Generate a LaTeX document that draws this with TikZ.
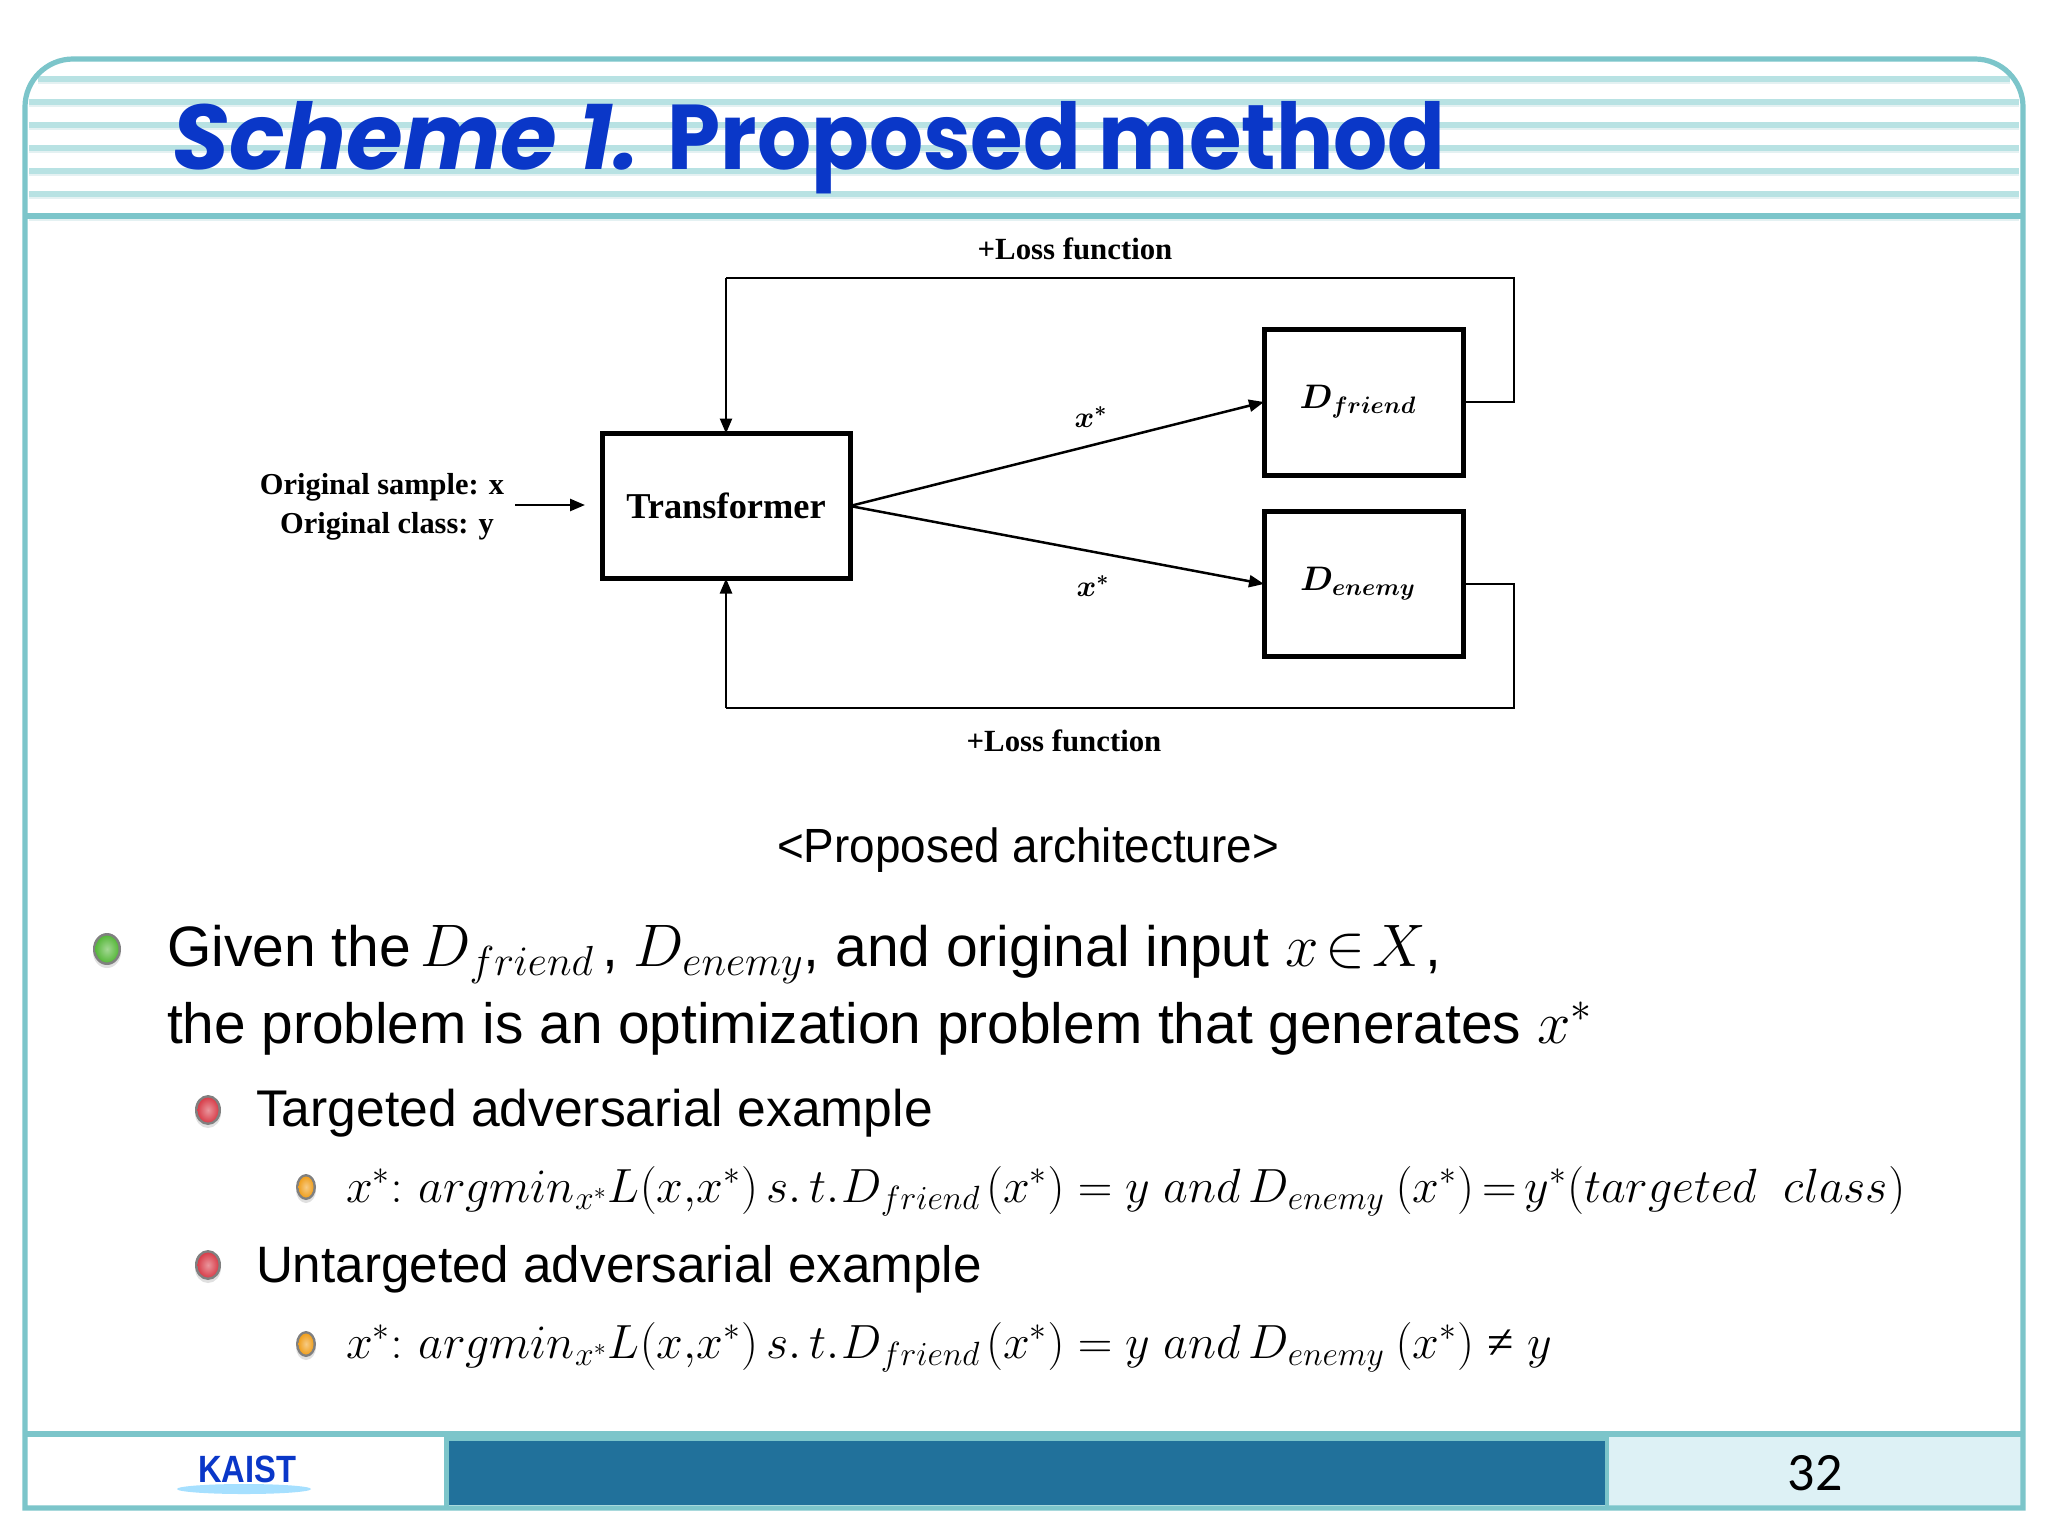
\RequirePackage{fix-cm}
\documentclass[tikz,border=0pt]{standalone}
\usepackage{fontspec}
\setmainfont{Liberation Sans}
\newfontfamily\serifb{Liberation Serif}
\newfontfamily\titlef{Poppins}
\newfontfamily\titleg[FakeStretch=0.925]{Poppins}
\newfontfamily\numf{Carlito}
\newfontfamily\capf[FakeStretch=0.955]{Liberation Sans}
\newfontfamily\logof[FakeStretch=0.86]{Liberation Sans}
\usetikzlibrary{arrows.meta,shapes.geometric}
\definecolor{frameC}{HTML}{7CC5CA}
\definecolor{stripeC}{HTML}{B8E2E3}
\definecolor{stripeS}{HTML}{E4F1F2}
\definecolor{titleC}{HTML}{0A37C8}
\definecolor{barC}{HTML}{21719B}
\definecolor{panelC}{HTML}{DDF1F5}
\definecolor{ballG}{HTML}{58B83C}
\definecolor{ballR}{HTML}{D8404C}
\definecolor{ballY}{HTML}{F0A020}
\tikzset{
  blockbox/.style={draw=black,line width=2.5pt,fill=white,inner sep=0pt,outer sep=0pt,align=center},
  wire/.style={draw=black,line width=1.25pt},
  tipped/.style={wire,-{Triangle[length=7.5pt,width=6pt]}},
  lab/.style={inner sep=0pt,outer sep=0pt,font=\serifb\bfseries\fontsize{15.4}{18}\selectfont,align=center},
  body/.style={inner sep=0pt,outer sep=0pt,anchor=base west,text=black},
  stripe/.style={draw=stripeC,line width=2.6pt},
  stripeshade/.style={draw=stripeS,line width=1pt},
  frameline/.style={draw=frameC,line width=2.6pt},
}
\newcommand{\bulletdot}[5]{%
  \fill[black!12] (#1,#2+3) ellipse ({#3} and {#4});
  \fill[black!50] (#1,#2) ellipse ({#3} and {#4});
  \shade[inner color=white!45!#5,outer color=#5] (#1,#2) ellipse ({#3-2.5} and {#4-2.5});
}
\newcommand{\fbig}[1]{{\fontsize{30}{34}\selectfont$#1$}}
\newcommand{\formhead}{x^*{:\mkern6mu}argmin_{x^*}L(x,\!x^*)\,s.\,t.\mkern1mu D_{friend}\mkern2mu(x^*)=y\ and\,D_{enemy}\mkern4mu(x^*)}
\begin{document}
\begin{tikzpicture}[x=0.5pt,y=-0.5pt]
\useasboundingbox (0,0) rectangle (2048,1536);
\fill[white] (0,0) rectangle (2048,1536);
% header stripes
\foreach \yy in {102,125,148,171,194}{
  \draw[stripeshade] (29,\yy+4) -- (2019,\yy+4);
  \draw[stripe] (29,\yy) -- (2019,\yy);
}
\draw[stripeshade] (38,83) -- (2010,83);
\draw[stripe] (38,79) -- (2010,79);
\draw[stripeshade] (29,220) -- (2019,220);
\draw[frameline] (25,216) -- (2023,216);
% panels of the footer
\fill[panelC] (1609,1437) rectangle (2021,1506);
\fill[frameC] (444,1434) rectangle (1609,1442);
\fill[frameC] (444,1434) rectangle (449,1508);
\fill[frameC] (1605,1434) rectangle (1609,1508);
\fill[barC] (449,1441) rectangle (1605,1505);
\draw[frameline] (25,1434) -- (2023,1434);
% outer frame
\draw[frameline] (25,1508) -- (25,107) arc[start angle=180,end angle=270,radius=48] -- (1975,59)
   arc[start angle=270,end angle=360,radius=48] -- (2023,1508) -- cycle;
% title
\node[body,text=titleC,font=\bfseries\fontsize{46}{50}\selectfont] (title) at (172,169) {{\titlef\itshape Scheme 1.}\hspace{-3pt} {\titleg Proposed method}};
% diagram
\node[blockbox,minimum width=124pt,minimum height=72.5pt,font=\serifb\bfseries\fontsize{18.2}{20}\selectfont] (tr) at (726,506) {\raisebox{-1.5pt}{Transformer}};
\node[blockbox,minimum width=99.5pt,minimum height=73pt,font=\fontsize{17}{20}\selectfont\boldmath] (df) at (1363.5,402) {\hspace{-5.5pt}\raisebox{-1.5pt}{$D_{friend}$}};
\node[blockbox,minimum width=99.5pt,minimum height=72.5pt,font=\fontsize{17}{20}\selectfont\boldmath] (de) at (1363.5,584) {\hspace{-5.5pt}\raisebox{-1.5pt}{$D_{enemy}$}};
\coordinate (tl) at (726,278);
\coordinate (trc) at (1514,278);
\coordinate (bl) at (726,708);
\coordinate (brc) at (1514,708);
\coordinate (inL) at (515,505);
\coordinate (inR) at (585,505);
\draw[wire] (df.east) -- (df.east -| trc) -- (trc) -- (tl);
\draw[tipped] (tl) -- (tr.north);
\draw[wire] (de.east) -- (de.east -| brc) -- (brc) -- (bl);
\draw[tipped] (bl) -- (tr.south);
\draw[tipped] (inL) -- (inR);
\draw[tipped] (tr.east) -- (df.west);
\draw[tipped] (tr.east) -- (de.west);
\node[lab] (ltop) at (1075,249) {+Loss function};
\node[lab] (lbot) at (1064,741) {+Loss function};
\node[lab,font=\serifb\bfseries\fontsize{15.2}{18}\selectfont] (orig) at (382,507) {Original sample: x\\[1.2pt]\hspace{5pt}Original class: y};
\node[lab,font=\fontsize{15}{18}\selectfont\boldmath] (xa) at (1091,417) {$x^*$};
\node[lab,font=\fontsize{15}{18}\selectfont\boldmath] (xb) at (1093,586) {$x^*$};
% caption
\node[inner sep=0pt,font=\capf\fontsize{24}{28}\selectfont] (cap) at (1028,850) {<Proposed architecture>};
% body text
\bulletdot{107}{949}{14}{16}{ballG}
\bulletdot{208}{1110}{13}{15}{ballR}
\bulletdot{208}{1265}{13}{15}{ballR}
\bulletdot{306}{1187}{10}{13}{ballY}
\bulletdot{306}{1344}{10}{13}{ballY}
\node[body,font=\fontsize{28.5}{34}\selectfont] (l1) at (167,966) {Given the\hspace{-3pt} \fbig{D_{friend}}\hspace{4pt}, \fbig{D_{enemy}}, and original input \fbig{x\!\in\! X},};
\node[body,font=\fontsize{28.4}{34}\selectfont] (l2) at (167,1043) {the problem is an optimization problem that generates \fbig{x^*}};
\node[body,font=\fontsize{25.8}{32}\selectfont] (l3) at (256,1126) {Targeted adversarial example};
\node[body,font=\fontsize{24}{30}\selectfont] (l4) at (346,1202) {$\formhead\mkern-2mu=\mkern-2mu y^*(targeted\ \ class)$};
\node[body,font=\fontsize{25.6}{32}\selectfont] (l5) at (256,1282) {Untargeted adversarial example};
\node[body,font=\fontsize{24}{30}\selectfont] (l6) at (346,1358) {$\formhead\mathrel{\mbox{\serifb ≠}}y$};
% footer
\fill[blue!35!cyan!35!white] (244,1489) ellipse (67 and 5);
\node[body,text=titleC,font=\logof\fontsize{19}{22}\selectfont\bfseries] (kaist) at (198,1482) {KAIST};
\node[inner sep=0pt,font=\numf\fontsize{27}{30}\selectfont] (num) at (1815,1473) {32};
\end{tikzpicture}
\end{document}
